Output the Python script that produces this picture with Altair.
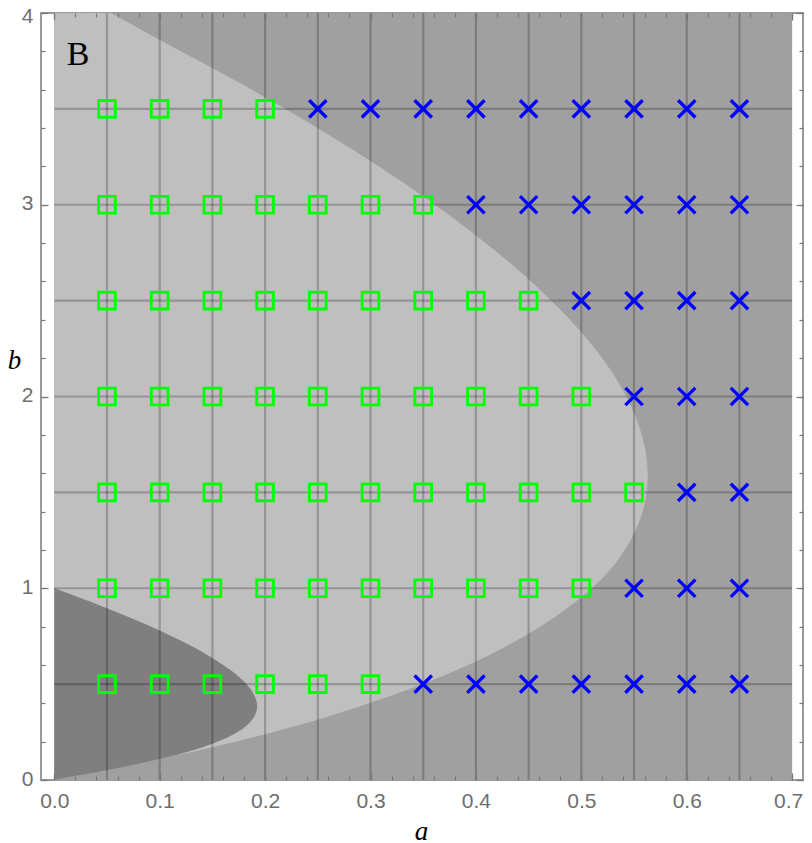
import altair as alt
import pandas as pd

# ---- data ----
a_values = [0.05, 0.10, 0.15, 0.20, 0.25, 0.30, 0.35, 0.40, 0.45, 0.50, 0.55, 0.60, 0.65]
b_values = [0.5, 1.0, 1.5, 2.0, 2.5, 3.0, 3.5]
# number of green squares (from the left) in each b row; the rest are blue crosses
green_counts = [6, 10, 11, 10, 9, 7, 4]

# outer (light) region boundary: a as a function of b
turing_b = [0.0, 0.104, 0.216, 0.337, 0.467, 0.605, 0.753, 0.910, 1.076, 1.253, 1.440,
            1.587, 1.740, 1.953, 2.235, 2.535, 2.853, 3.189, 3.545, 3.920, 4.0]
turing_a = [0.0, 0.096, 0.184, 0.263, 0.333, 0.395, 0.447, 0.490, 0.524, 0.547, 0.560,
            0.563, 0.560, 0.547, 0.515, 0.465, 0.397, 0.311, 0.205, 0.080, 0.054]

# inner (dark) region boundary: a as a function of b
hopf_b = [0.0, 0.0505, 0.104, 0.1635, 0.232, 0.3125, 0.385, 0.462, 0.5215, 0.656, 0.8145, 0.904, 1.0]
hopf_a = [0.0, 0.0495, 0.096, 0.1365, 0.168, 0.1875, 0.1925, 0.1877, 0.1785, 0.144, 0.0855, 0.0463, 0.0]

region_a = [0.0, 0.7]
region_b = [0.0, 4.0]

x_major = [0.0, 0.1, 0.2, 0.3, 0.4, 0.5, 0.6, 0.7]
x_minor = [i / 50 for i in range(36)]
y_major = [0, 1, 2, 3, 4]
y_minor = [i / 5 for i in range(21)]

label_text = ["B"]
label_a = [0.0225]
label_b = [3.78]

# ---- tables ----
pts = []
for b, n in zip(b_values, green_counts):
    for i, a in enumerate(a_values):
        pts.append({"a": a, "b": b, "kind": "green" if i < n else "blue"})
pts = pd.DataFrame(pts)
green = pts[pts.kind == "green"]
blue = pts[pts.kind == "blue"]

bg = pd.DataFrame({"a0": [region_a[0]], "a1": [region_a[1]], "b0": [region_b[0]], "b1": [region_b[1]]})
turing = pd.DataFrame({"a": turing_a, "b": turing_b, "a0": [region_a[0]] * len(turing_a)})
hopf = pd.DataFrame({"a": hopf_a, "b": hopf_b, "a0": [region_a[0]] * len(hopf_a)})
vgrid = pd.DataFrame({"a": a_values, "b0": [region_b[0]] * len(a_values), "b1": [region_b[1]] * len(a_values)})
hgrid = pd.DataFrame({"b": b_values, "a0": [region_a[0]] * len(b_values), "a1": [region_a[1]] * len(b_values)})
lab = pd.DataFrame({"t": label_text, "a": label_a, "b": label_b})

XS = alt.Scale(domain=[-0.0126, 0.7103], nice=False, zero=False)
YS = alt.Scale(domain=[0, 4], nice=False, zero=False)

TICK = "#777777"
LABEL = "#6e6e6e"


def tick_axis(orient, values, size):
    return alt.Axis(orient=orient, values=values, tickSize=size, offset=-size, domain=False,
                    grid=False, labels=False, title=None, tickColor=TICK, tickWidth=1.2, zindex=2)


x_bottom = alt.Axis(orient="bottom", values=x_major, format=".1f", tickSize=7, offset=-7,
                    domain=False, grid=False, tickColor=TICK, tickWidth=1.2, zindex=2,
                    labelFont="Liberation Sans", labelFontSize=21, labelColor=LABEL,
                    labelPadding=10, labelFlush=False, labelOverlap=False,
                    labelOffset={"condition": {"test": "datum.value >= 0.69", "value": -4}, "value": 0},
                    title="a", titleFont="Liberation Serif", titleFontStyle="italic",
                    titleFontWeight="normal", titleFontSize=27, titleColor="black",
                    titleX=380, titleY=66, titleBaseline="alphabetic")
y_left = alt.Axis(orient="left", values=y_major, format="d", tickSize=7, offset=-7,
                  domain=False, grid=False, tickColor=TICK, tickWidth=1.2, zindex=2,
                  labelFont="Liberation Sans", labelFontSize=21, labelColor=LABEL,
                  labelPadding=8, labelFlush=False, labelOverlap=False,
                  labelOffset={"condition": {"test": "datum.value == 4", "value": 3}, "value": -1},
                  title="b", titleFont="Liberation Serif", titleFontStyle="italic",
                  titleFontWeight="normal", titleFontSize=27, titleColor="black",
                  titleAngle=0, titleX=-34, titleY=355, titleAlign="center",
                  titleBaseline="alphabetic")

background = alt.Chart(bg).mark_rect(color="#a0a0a0").encode(
    x=alt.X("a0:Q", scale=XS, axis=x_bottom),
    x2="a1:Q",
    y=alt.Y("b0:Q", scale=YS, axis=y_left),
    y2="b1:Q",
)

light = alt.Chart(turing).mark_area(color="#bfbfbf", orient="horizontal", interpolate="monotone").encode(
    x=alt.X("a:Q", scale=XS, axis=tick_axis("bottom", x_minor, 4)),
    x2="a0:Q",
    y=alt.Y("b:Q", scale=YS, axis=tick_axis("left", y_minor, 4)),
)

dark = alt.Chart(hopf).mark_area(color="#7f7f7f", orient="horizontal", interpolate="monotone").encode(
    x=alt.X("a:Q", scale=XS, axis=tick_axis("top", x_major, 7)),
    x2="a0:Q",
    y=alt.Y("b:Q", scale=YS, axis=tick_axis("right", y_major, 7)),
)

vlines = alt.Chart(vgrid).mark_rule(color="black", opacity=0.22, strokeWidth=2.2).encode(
    x=alt.X("a:Q", scale=XS, axis=None),
    y=alt.Y("b0:Q", scale=YS, axis=None),
    y2="b1:Q",
)

hlines = alt.Chart(hgrid).mark_rule(color="black", opacity=0.22, strokeWidth=2.2).encode(
    x=alt.X("a0:Q", scale=XS, axis=None),
    x2="a1:Q",
    y=alt.Y("b:Q", scale=YS, axis=None),
)

squares = alt.Chart(green).mark_point(shape="square", filled=False, color="#00ff00",
                                      strokeWidth=2.8, size=280, opacity=1).encode(
    x=alt.X("a:Q", scale=XS, axis=tick_axis("top", x_minor, 4)),
    y=alt.Y("b:Q", scale=YS, axis=tick_axis("right", y_minor, 4)),
)

crosses = alt.Chart(blue).mark_point(shape="M-1,-1L1,1M1,-1L-1,1", filled=False, color="#0000ff",
                                     strokeWidth=3.3, size=300, opacity=1).encode(
    x=alt.X("a:Q", scale=XS, axis=None),
    y=alt.Y("b:Q", scale=YS, axis=None),
)

text = alt.Chart(lab).mark_text(font="Liberation Serif", fontSize=34, color="black",
                                align="center", baseline="middle").encode(
    x=alt.X("a:Q", scale=XS, axis=None),
    y=alt.Y("b:Q", scale=YS, axis=None),
    text="t:N",
)

chart = alt.layer(background, light, dark, vlines, hlines, squares, crosses, text).resolve_axis(
    x="independent", y="independent"
).properties(
    width=762,
    height=767,
    autosize=alt.AutoSizeParams(type="none"),
    padding={"left": 33, "top": 5, "right": 1, "bottom": 63},
    background="white",
).configure_view(stroke="#9a9a9a", strokeWidth=2)

chart.save("out.html", embed_options={"renderer": "svg", "actions": False})
